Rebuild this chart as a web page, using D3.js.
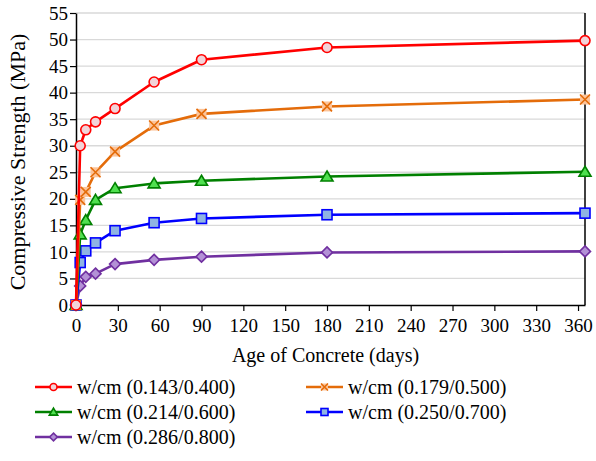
<!DOCTYPE html>
<html>
<head>
<meta charset="utf-8">
<script src="https://cdn.jsdelivr.net/npm/d3@7"></script>
<style>
  body { margin: 0; background: #fff; }
  svg text { font-family: "Liberation Serif", Tinos, "Times New Roman", "Nimbus Roman", FreeSerif, "Noto Serif", "DejaVu Serif", serif; fill: #000; }
</style>
</head>
<body>
<svg width="596" height="461"></svg>
<script>
// ages in days
var days = [0, 3, 7, 14, 28, 56, 90, 180, 365];

// compressive strength, MPa
var s400 = [0, 30, 33, 34.5, 37, 42, 46.2, 48.5, 49.8];
var s500 = [0, 19.8, 21.3, 25, 28.9, 33.8, 36, 37.4, 38.7];
var s600 = [0, 13.3, 16, 19.8, 22, 22.9, 23.4, 24.2, 25.1];
var s700 = [0, 8, 10.2, 11.7, 14, 15.5, 16.3, 17, 17.3];
var s800 = [0, 3.6, 5.3, 5.9, 7.7, 8.5, 9.1, 9.9, 10.1];

var names = ["w/cm (0.143/0.400)", "w/cm (0.179/0.500)", "w/cm (0.214/0.600)",
             "w/cm (0.250/0.700)", "w/cm (0.286/0.800)"];

var xTicks = d3.range(0, 361, 30);
var yTicks = d3.range(0, 56, 5);

var svg = d3.select("svg"),
    margin = {left: 76, right: 11, top: 13, bottom: 156},
    width = +svg.attr("width") - margin.left - margin.right,
    height = +svg.attr("height") - margin.top - margin.bottom;

var series = [
  {name: names[0], vals: s400, stroke: "#ff0000", fill: "#f2d3d8", shape: "circle"},
  {name: names[1], vals: s500, stroke: "#e46c0a", fill: "#fcc49a", shape: "x"},
  {name: names[2], vals: s600, stroke: "#008000", fill: "#4fe04f", shape: "triangle"},
  {name: names[3], vals: s700, stroke: "#0000ff", fill: "#8fb4e3", shape: "square"},
  {name: names[4], vals: s800, stroke: "#7030a0", fill: "#b391d6", shape: "diamond"}
];

var x = d3.scaleLinear().domain([0, 365]).range([0, width]);
var y = d3.scaleLinear().domain([0, 55]).range([height, 0]);

var g = svg.append("g").attr("transform", "translate(" + margin.left + "," + margin.top + ")");

// gridlines
g.append("g").selectAll("line")
  .data(yTicks.slice(1))
  .enter().append("line")
    .attr("x1", 0).attr("x2", width)
    .attr("y1", function(d) { return y(d); })
    .attr("y2", function(d) { return y(d); })
    .attr("stroke", "#d9d9d9").attr("stroke-width", 1.3);

// axes
var xAxis = g.append("g")
    .attr("transform", "translate(0," + height + ")")
    .call(d3.axisBottom(x).tickValues(xTicks).tickSize(6).tickSizeOuter(0));
var yAxis = g.append("g")
    .call(d3.axisLeft(y).tickValues(yTicks).tickSize(6).tickSizeOuter(0));

[xAxis, yAxis].forEach(function(a) {
  a.attr("font-family", null).attr("font-size", null);
  a.select(".domain").attr("stroke", "#000").attr("stroke-width", 1.5);
  a.selectAll(".tick line").attr("stroke", "#000").attr("stroke-width", 1.2);
  a.selectAll("text").style("font-size", "19px").attr("fill", "#000");
});
xAxis.selectAll("text").attr("dy", "0.95em");
yAxis.selectAll("text").attr("x", -8);

// right border
g.append("line")
  .attr("x1", width).attr("x2", width)
  .attr("y1", 0).attr("y2", height)
  .attr("stroke", "#000").attr("stroke-width", 1.5);

// axis titles
svg.append("text")
  .attr("x", margin.left + width / 2 - 5).attr("y", 362)
  .attr("text-anchor", "middle")
  .style("font-size", "20px")
  .text("Age of Concrete (days)");

svg.append("text")
  .attr("transform", "translate(25," + (margin.top + height / 2 + 3) + ") rotate(-90)")
  .attr("text-anchor", "middle")
  .style("font-size", "22px")
  .text("Compressive Strength (MPa)");

function drawMarker(sel, shape, s, stroke, fill) {
  var m;
  if (shape === "circle") {
    m = sel.append("circle").attr("r", s * 0.5);
  } else if (shape === "square") {
    m = sel.append("rect").attr("x", -s / 2).attr("y", -s / 2).attr("width", s).attr("height", s);
  } else if (shape === "triangle") {
    m = sel.append("path").attr("d", "M0," + (-s * 0.55) + "L" + (s * 0.6) + "," + (s * 0.45) + "L" + (-s * 0.6) + "," + (s * 0.45) + "Z");
  } else if (shape === "diamond") {
    m = sel.append("path").attr("d", "M0," + (-s * 0.55) + "L" + (s * 0.55) + ",0L0," + (s * 0.55) + "L" + (-s * 0.55) + ",0Z");
  } else {
    sel.append("rect").attr("x", -s / 2).attr("y", -s / 2).attr("width", s).attr("height", s)
      .attr("fill", fill);
    var h = s * 0.5;
    sel.append("path").attr("d", "M" + (-h) + "," + (-h) + "L" + h + "," + h + "M" + h + "," + (-h) + "L" + (-h) + "," + h)
      .attr("stroke", stroke).attr("stroke-width", 1.6).attr("fill", "none");
    return;
  }
  m.attr("fill", fill).attr("stroke", stroke).attr("stroke-width", 1.6);
}

var line = d3.line()
  .x(function(d) { return x(d[0]); })
  .y(function(d) { return y(d[1]); });

// draw weakest first so strongest sits on top
series.slice().reverse().forEach(function(s) {
  var pts = days.map(function(d, i) { return [d, s.vals[i]]; });
  g.append("path")
    .datum(pts)
    .attr("d", line)
    .attr("fill", "none")
    .attr("stroke", s.stroke)
    .attr("stroke-width", 2.6)
    .attr("stroke-linejoin", "round");
  g.append("g").selectAll("g")
    .data(pts)
    .enter().append("g")
      .attr("transform", function(d) { return "translate(" + x(d[0]) + "," + y(d[1]) + ")"; })
      .each(function() { drawMarker(d3.select(this), s.shape, 10, s.stroke, s.fill); });
});

// legend
var legPos = [[35, 387], [306, 387], [35, 412], [306, 412], [35, 437]];
series.forEach(function(s, i) {
  var lg = svg.append("g").attr("transform", "translate(" + legPos[i][0] + "," + legPos[i][1] + ")");
  lg.append("line").attr("x1", 0).attr("x2", 37).attr("y1", 0).attr("y2", 0)
    .attr("stroke", s.stroke).attr("stroke-width", 2.6);
  var mk = lg.append("g").attr("transform", "translate(18.5,0)");
  drawMarker(mk, s.shape, 7, s.stroke, s.fill);
  lg.append("text").attr("x", 42).attr("y", 0).attr("dy", "0.35em")
    .style("font-size", "20px").text(s.name);
});
</script>
</body>
</html>
